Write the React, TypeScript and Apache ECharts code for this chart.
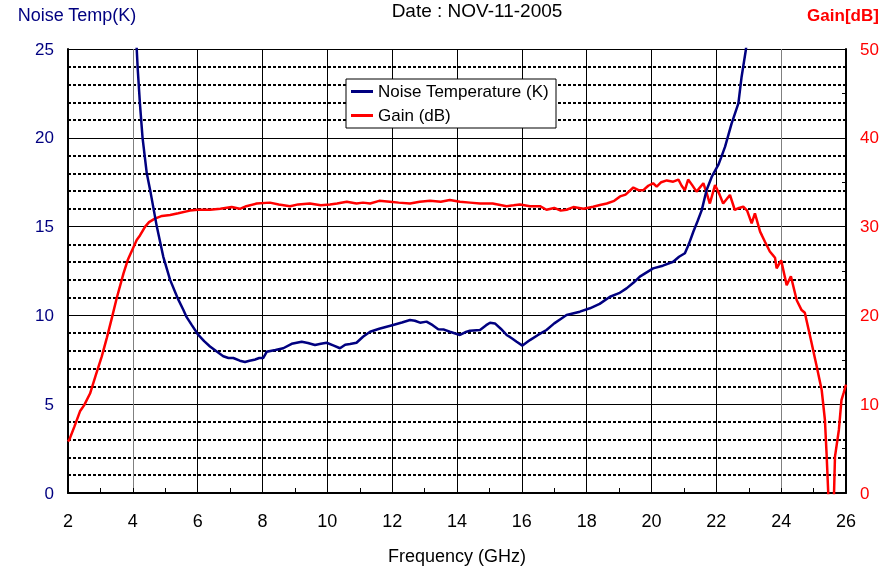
import React, { useEffect, useRef } from "react";
import * as echarts from "echarts";

const noiseFreq = [
  4.0, 4.12, 4.15, 4.22, 4.3, 4.43, 4.55, 4.65, 4.74, 4.94, 5.15, 5.4, 5.56, 5.66, 5.82, 6.02, 6.2, 6.38, 6.6, 6.79,
  6.95, 7.1, 7.3, 7.46, 7.6, 7.75, 7.9, 8.02, 8.13, 8.4, 8.64, 8.9, 9.21, 9.4, 9.62, 9.8, 9.98, 10.2, 10.39, 10.55,
  10.7, 10.9, 11.1, 11.32, 11.6, 12.03, 12.3, 12.55, 12.7, 12.86, 13.06, 13.25, 13.42, 13.6, 13.78, 14.09, 14.25,
  14.4, 14.71, 14.9, 15.02, 15.17, 15.35, 15.53, 15.7, 15.84, 16.02, 16.25, 16.5, 16.76, 17.0, 17.2, 17.38, 17.79,
  18.1, 18.4, 18.72, 19.0, 19.23, 19.45, 19.64, 20.05, 20.35, 20.67, 20.85, 21.03, 21.15, 21.29, 21.42, 21.55, 21.7,
  21.86, 22.06, 22.15, 22.27, 22.47, 22.68, 22.78, 22.91, 23.0,
];
const noiseTemp = [
  28.4, 25.0, 23.9, 21.9, 20.0, 18.0, 16.9, 15.9, 15.0, 13.3, 12.0, 10.9, 10.3, 9.9, 9.45, 8.9, 8.55, 8.25, 7.95, 7.7,
  7.6, 7.6, 7.45, 7.38, 7.45, 7.5, 7.6, 7.6, 7.95, 8.05, 8.15, 8.4, 8.52, 8.45, 8.33, 8.4, 8.46, 8.3, 8.15, 8.35,
  8.39, 8.46, 8.8, 9.08, 9.25, 9.46, 9.6, 9.74, 9.7, 9.59, 9.65, 9.45, 9.22, 9.2, 9.08, 8.9, 9.05,
  9.14, 9.18, 9.45, 9.59, 9.55, 9.25, 8.9, 8.7, 8.52, 8.3, 8.61, 8.9, 9.18, 9.55, 9.8, 10.02, 10.21,
  10.4, 10.65, 11.05, 11.25, 11.52, 11.85, 12.18, 12.65, 12.8, 13.02, 13.3, 13.5, 14.0, 14.71, 15.3, 15.93, 17.06,
  17.81, 18.47, 18.9, 19.5, 20.8, 21.94, 23.44, 24.94, 26.5,
];

const gainFreq = [
  2.0, 2.04, 2.2, 2.37, 2.5, 2.68, 2.85, 3.04, 3.2, 3.35, 3.5, 3.71, 3.85, 3.96, 4.12, 4.22, 4.38, 4.5, 4.68, 4.9,
  5.15, 5.4, 5.76, 6.0, 6.38, 6.7, 7.05, 7.3, 7.5, 7.82, 8.23, 8.5, 8.85, 9.1, 9.46, 9.8, 10.08, 10.3, 10.6, 10.9,
  11.1, 11.32, 11.6, 11.93, 12.2, 12.55, 12.85, 13.17, 13.5, 13.78, 14.09, 14.4, 14.71, 15.1, 15.53, 15.75, 15.94,
  16.25, 16.56, 16.76, 17.0, 17.2, 17.38, 17.59, 17.9, 18.2, 18.41, 18.62, 18.85, 19.03, 19.2, 19.44, 19.6, 19.75,
  19.9, 20.05, 20.16, 20.3, 20.47, 20.67, 20.83, 20.93, 21.03, 21.13, 21.25, 21.39, 21.6, 21.7, 21.8, 21.96, 22.1,
  22.21, 22.42, 22.57, 22.7, 22.83, 22.95, 23.09, 23.19, 23.35, 23.5, 23.65, 23.81, 23.86, 24.0, 24.17, 24.3, 24.48,
  24.63, 24.73, 24.92, 25.1, 25.25, 25.35, 25.4, 25.47, 25.55, 25.62, 25.66, 25.78, 25.86, 25.93, 26.0,
];
const gainDb = [
  5.8, 6.0, 7.5, 9.2, 9.9, 11.2, 13.2, 15.35, 17.5, 19.67, 21.9, 24.7, 26.3, 27.2, 28.5, 29.0, 30.0, 30.5, 30.9, 31.2,
  31.3, 31.5, 31.8, 31.9, 31.9, 32.0, 32.2, 32.0, 32.3, 32.6, 32.7, 32.5, 32.3, 32.5, 32.6, 32.4, 32.5, 32.6, 32.8, 32.6,
  32.7, 32.6, 32.9, 32.8, 32.7, 32.6, 32.8, 32.9, 32.8, 33.0, 32.8, 32.7, 32.6, 32.6, 32.3, 32.4, 32.5,
  32.3, 32.3, 31.9, 32.1, 31.8, 31.9, 32.2, 32.0, 32.24, 32.43, 32.6, 32.9, 33.4, 33.6, 34.4, 34.1, 34.1,
  34.6, 34.88, 34.5, 35.0, 35.2, 35.06, 35.3, 34.6, 34.1, 35.3, 34.7, 33.94, 34.88, 33.8, 32.6, 34.68, 33.6,
  32.6, 33.56, 31.87, 32.1, 32.24, 31.8, 30.37, 31.5, 29.43, 28.3, 27.2, 26.5, 25.3, 26.2, 23.4, 24.4, 21.7,
  20.6, 20.3, 17.2, 14.2, 11.6, 8.22, 4.47, -1.5, -3.0, -1.5, 4.09, 7.1, 10.47, 11.3, 12.2,
];

const xTicks = [2, 4, 6, 8, 10, 12, 14, 16, 18, 20, 22, 24, 26];

const FONT = "'Liberation Sans', Arial, sans-serif";
const NAVY = "#000080";
const RED = "#ff0000";

export default function App() {
  const ref = useRef<HTMLDivElement>(null);
  useEffect(() => {
    if (!ref.current) return;
    const chart = echarts.init(ref.current, undefined, { renderer: "svg" });
    const noiseData = noiseFreq.map((f, i) => [f, noiseTemp[i]]);
    const gainData = gainFreq.map((f, i) => [f, gainDb[i]]);
    const gridColors = xTicks.map((t) => (t === 4 || t === 24 ? "#808080" : "#000000"));
    chart.setOption({
      animation: false,
      textStyle: { fontFamily: FONT },
      title: {
        text: "Date : NOV-11-2005",
        left: 472,
        top: -4,
        textAlign: "center",
        textStyle: { fontSize: 19, fontWeight: "normal", color: "#000", fontFamily: FONT },
      },
      legend: {
        orient: "vertical",
        left: 346,
        top: 79,
        padding: [4, 7, 4, 5],
        itemGap: 7,
        itemWidth: 22,
        itemHeight: 3,
        icon: "rect",
        borderColor: "#000",
        borderWidth: 1,
        borderRadius: 0,
        backgroundColor: "#fff",
        textStyle: { fontSize: 17, color: "#000", fontFamily: FONT },
        data: ["Noise Temperature (K)", "Gain (dB)"],
      },
      grid: { left: 68, right: 46, top: 49, bottom: 75, containLabel: false, outerBoundsMode: "none" },
      xAxis: {
        type: "value",
        min: 2,
        max: 26,
        interval: 2,
        name: "Frequency (GHz)",
        nameLocation: "middle",
        nameGap: 63,
        nameTextStyle: { fontSize: 18, color: "#000", verticalAlign: "middle", fontFamily: FONT },
        axisLine: { show: true, onZero: false, lineStyle: { color: "#000", width: 2 } },
        axisTick: { show: true, inside: true, length: 5, lineStyle: { color: "#000" } },
        minorTick: { show: true, splitNumber: 2, length: 5, lineStyle: { color: "#000" } },
        axisLabel: { fontSize: 18, color: "#000", margin: 19, fontFamily: FONT },
        splitLine: { show: true, lineStyle: { color: gridColors, width: 1 } },
      },
      yAxis: [
        {
          type: "value",
          min: 0,
          max: 25,
          interval: 5,
          position: "left",
          name: "Noise Temp(K)",
          nameLocation: "end",
          nameGap: 34,
          nameTextStyle: {
            fontSize: 18,
            color: NAVY,
            align: "center",
            verticalAlign: "middle",
            padding: [0, 0, 0, 18],
            fontFamily: FONT,
          },
          axisLine: { show: true, lineStyle: { color: "#000", width: 2 } },
          axisTick: { show: false },
          axisLabel: { fontSize: 17, color: NAVY, margin: 14, fontFamily: FONT },
          splitLine: { show: true, lineStyle: { color: "#000", width: 1 } },
          minorTick: { show: false, splitNumber: 5 },
          minorSplitLine: { show: true, lineStyle: { color: "#000", width: 2, type: [3, 2] } },
        },
        {
          type: "value",
          min: 0,
          max: 50,
          interval: 10,
          position: "right",
          name: "Gain[dB]",
          nameLocation: "end",
          nameGap: 34,
          nameTextStyle: {
            fontSize: 17,
            fontWeight: "bold",
            color: RED,
            align: "center",
            verticalAlign: "middle",
            padding: [0, 6, 0, 0],
            fontFamily: FONT,
          },
          axisLine: { show: true, lineStyle: { color: "#000", width: 2 } },
          axisTick: { show: true, inside: true, length: 4, lineStyle: { color: "#000" } },
          minorTick: { show: true, splitNumber: 2, length: 4, lineStyle: { color: "#000" } },
          axisLabel: { fontSize: 17, color: RED, margin: 14, fontFamily: FONT },
          splitLine: { show: false },
        },
      ],
      series: [
        {
          name: "Noise Temperature (K)",
          type: "line",
          yAxisIndex: 0,
          data: noiseData,
          symbol: "none",
          showSymbol: false,
          clip: true,
          lineStyle: { color: NAVY, width: 2.5 },
          itemStyle: { color: NAVY },
          z: 3,
        },
        {
          name: "Gain (dB)",
          type: "line",
          yAxisIndex: 1,
          data: gainData,
          symbol: "none",
          showSymbol: false,
          clip: true,
          lineStyle: { color: RED, width: 2.5 },
          itemStyle: { color: RED },
          z: 2,
        },
      ],
    });
    return () => chart.dispose();
  }, []);
  return <div ref={ref} style={{ position: "fixed", left: 0, top: 0, width: 892, height: 568 }} />;
}
